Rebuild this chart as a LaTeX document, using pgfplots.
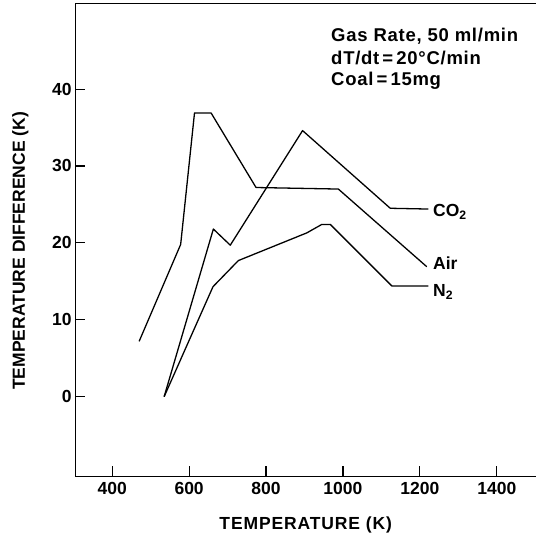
\documentclass[border=0pt]{standalone}
\usepackage{fontspec}
\setmainfont{Liberation Sans}
\usepackage{pgfplots}
\pgfplotsset{compat=1.18}
\pgfplotstableread{
T dT
470 7.2
578 19.8
614 36.9
657 36.9
774 27.2
988 27.0
1218 16.9
}\airdata
\pgfplotstableread{
T dT
535 0
663 21.8
707 19.7
895 34.6
1123 24.5
1222 24.4
}\codata
\pgfplotstableread{
T dT
535 0
662 14.3
728 17.7
906 21.3
945 22.4
967 22.4
1127 14.4
1222 14.4
}\ndata
\begin{document}
\begin{tikzpicture}[font=\fontsize{17.5bp}{21bp}\selectfont\bfseries]
\path[use as bounding box] (-75.3bp,-57.7bp) rectangle (460.7bp,476.3bp);
\begin{axis}[
  scale only axis, width=460.7bp, height=472.6bp,
  xmin=304, xmax=1502, ymin=-10.35, ymax=51.1,
  axis x line*=bottom, axis y line*=left,
  axis line style={line width=1.4pt},
  xtick={400,600,800,1000,1200,1400},
  ytick={0,10,20,30,40},
  tick align=inside,
  major tick length=10bp,
  tick style={line width=1.1pt, black},
  /pgf/number format/assume math mode=true,
  /pgf/number format/1000 sep={},
  xticklabel style={inner sep=0pt, yshift=-5.7bp},
  yticklabel style={inner sep=0pt, xshift=-3.6bp},
  xlabel={\addfontfeature{LetterSpace=5}TEMPERATURE (K)},
  ylabel={TEMPERATURE DIFFERENCE (K)},
  xlabel style={at={(axis description cs:0.5,-0.1122)}, anchor=base, inner sep=0pt},
  ylabel style={at={(axis description cs:-0.1092,0.477)}, anchor=base, rotate=0, inner sep=0pt},
  clip=false,
]
\draw[line width=1.4pt] (rel axis cs:0,1) -- (rel axis cs:1,1);
\addplot[black, line width=1.3pt, line join=round] table[x=T,y=dT] {\airdata};
\addplot[black, line width=1.3pt, line join=round] table[x=T,y=dT] {\codata};
\addplot[black, line width=1.3pt, line join=round] table[x=T,y=dT] {\ndata};
\node[anchor=base west, inner sep=0pt] at (axis cs:1234,23.4) {CO\textsubscript{2}};
\node[anchor=base west, inner sep=0pt] at (axis cs:1234,16.6) {Air};
\node[anchor=base west, inner sep=0pt] at (axis cs:1234,13.0) {N\textsubscript{2}};
\begin{scope}[every node/.style={anchor=base west, inner sep=0pt, font=\fontsize{18.5bp}{22bp}\selectfont\bfseries\addfontfeature{LetterSpace=4}}]
\node at (axis cs:969,46.16) {Gas Rate, 50 ml/min};
\node at (axis cs:969,43.25) {dT/dt\,=\,20°C/min};
\node at (axis cs:969,40.40) {Coal\,=\,15mg};
\end{scope}
\end{axis}
\end{tikzpicture}
\end{document}
